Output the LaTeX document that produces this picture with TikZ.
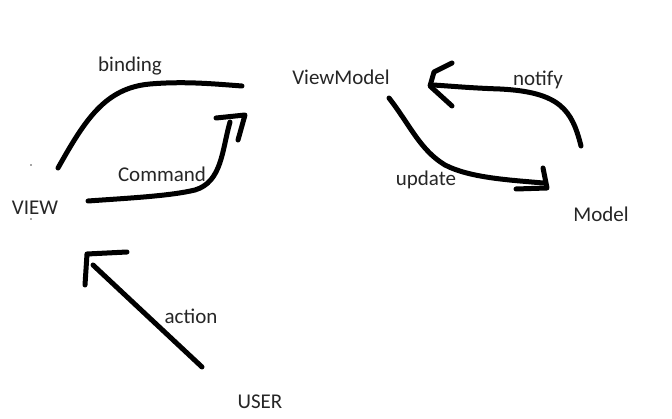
\documentclass[tikz,border=0pt]{standalone}
\usepackage{fontspec}
\setmainfont{Carlito}
\begin{document}
\begin{tikzpicture}[x=1pt,y=-1pt,
  lbl/.style={font=\fontsize{21}{24}\selectfont, text=black!85, inner sep=0pt},
  stroke/.style={line width=5pt, line cap=round, line join=round, black}]
\useasboundingbox[fill=white] (0,0) rectangle (672,419);
% labels
\node[lbl] (binding) at (130,66) {binding};
\node[lbl] (vm) at (341,77) {ViewModel};
\node[lbl] (notify) at (538,80) {notify};
\node[lbl] (command) at (162,174) {Command};
\node[lbl] (view) at (35,208) {VIEW};
\node[lbl] (update) at (426,180) {update};
\node[lbl] (model) at (601,214) {Model};
\node[lbl] (action) at (191,316) {action};
\node[lbl] (user) at (260,402) {USER};
% stray dots
\fill[black!70] (31,165) circle (0.8);
\fill[black!70] (31,219) circle (0.8);
% connector end points
\coordinate (b1) at (58,168);
\coordinate (b2) at (242,86);
\coordinate (c1) at (88,201);
\coordinate (c2) at (230,122);
\coordinate (n1) at (581,146);
\coordinate (n2) at (433,85);
\coordinate (u1) at (389,98);
\coordinate (u2) at (543,183);
\coordinate (a1) at (202,367);
\coordinate (a2) at (93,265);
% binding
\draw[stroke] (b1) .. controls (85,120) and (105,88) .. (150,84)
  .. controls (185,81) and (215,84) .. (b2);
% command
\draw[stroke] (c1) .. controls (130,198) and (170,196) .. (195,190)
  .. controls (222,182) and (222,150) .. (c2);
\draw[stroke] (216,118) -- (245,115) -- (238,140);
% notify
\draw[stroke] (n1) .. controls (572,110) and (560,92) .. (500,89)
  .. controls (470,88) and (450,86) .. (n2);
\draw[stroke] (452,63) -- (434,72) -- (430,86) -- (452,106);
% update
\draw[stroke] (u1) .. controls (410,125) and (420,150) .. (445,165)
  .. controls (470,178) and (510,180) .. (u2);
\draw[stroke] (543,168) -- (547,188) -- (516,189);
% action
\draw[stroke] (a1) -- (a2);
\draw[stroke] (85,285) -- (87,254) -- (127,252);
\end{tikzpicture}
\end{document}
